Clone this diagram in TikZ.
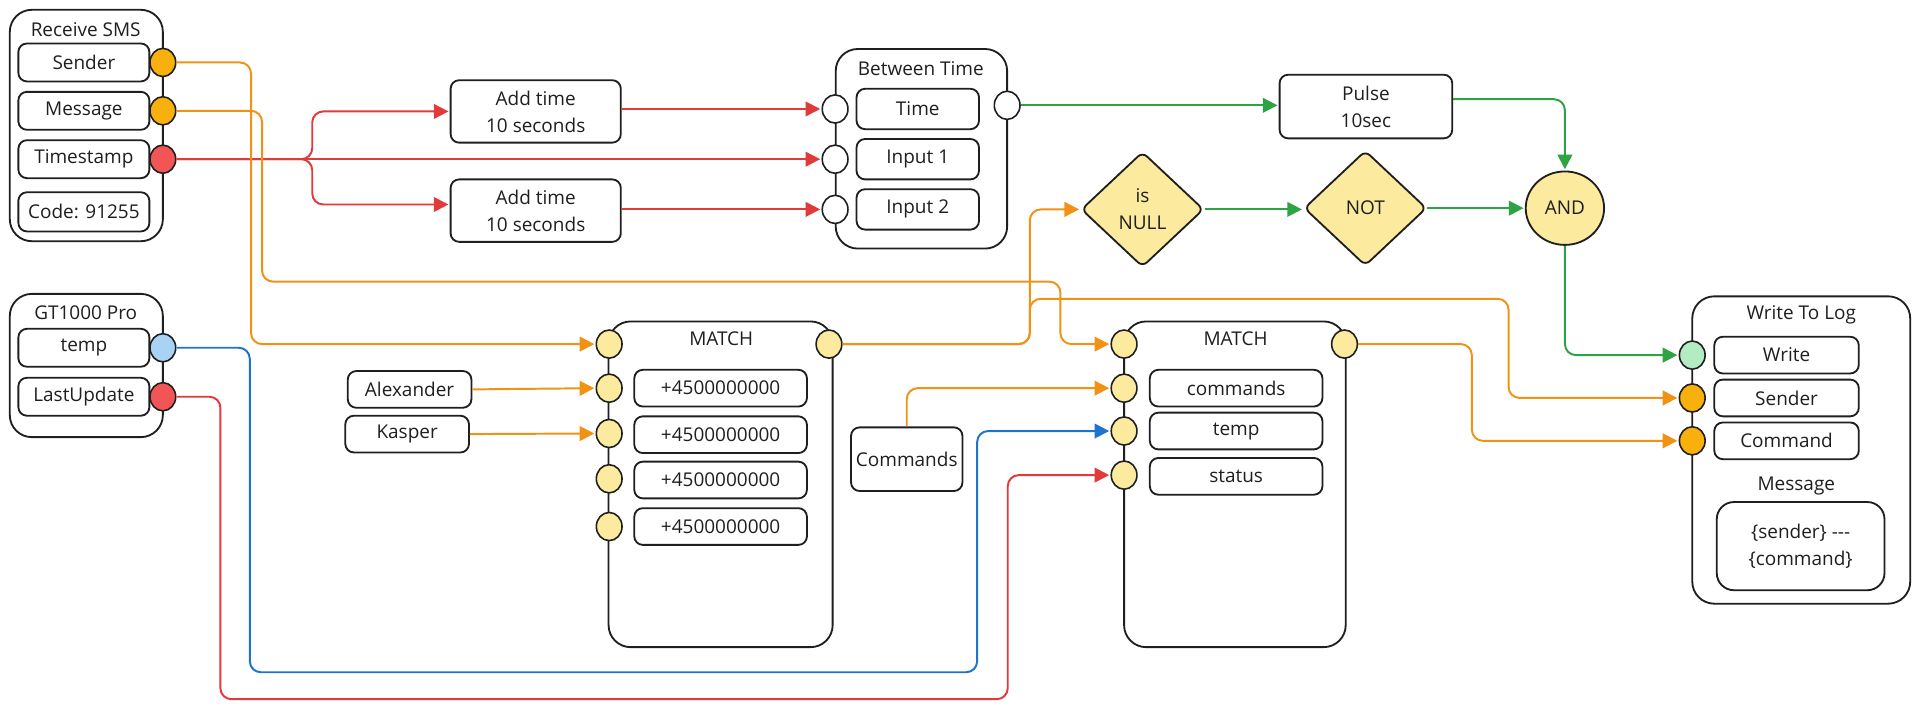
\documentclass[tikz,border=0pt]{standalone}
\usepackage{fontspec}
\setmainfont{Open Sans}
\usetikzlibrary{shapes.geometric,arrows.meta}
\definecolor{ink}{HTML}{1F1F1F}
\definecolor{portorange}{HTML}{F7B00C}
\definecolor{portred}{HTML}{F25555}
\definecolor{portblue}{HTML}{A9D3F5}
\definecolor{portgreen}{HTML}{B3EBC2}
\definecolor{softyellow}{HTML}{FCEA9E}
\definecolor{wireorange}{HTML}{F29214}
\definecolor{wirered}{HTML}{E03A3A}
\definecolor{wireblue}{HTML}{1E74CC}
\definecolor{wiregreen}{HTML}{2EA344}
\begin{document}
\begin{tikzpicture}[x=1pt,y=-1pt,
  every node/.style={text=ink, font=\fontsize{15.5}{22}\selectfont},
  cont/.style={draw=ink, line width=1.5pt, rounded corners=18pt, inner sep=0pt, fill=white},
  fbox/.style={draw=ink, line width=1.5pt, rounded corners=7pt, inner sep=0pt, fill=white, align=center},
  ttl/.style={inner sep=0pt},
  port/.style={ellipse, draw=ink, line width=1.3pt, minimum width=21pt, minimum height=23pt, inner sep=0pt},
  wire/.style={line width=1.6pt, rounded corners=9pt, shorten >=1pt, -{Triangle[length=12pt,width=12pt]}},
  ow/.style={wire, draw=wireorange, color=wireorange},
  rw/.style={wire, draw=wirered, color=wirered},
  bw/.style={wire, draw=wireblue, color=wireblue},
  gw/.style={wire, draw=wiregreen, color=wiregreen},
  gate/.style={draw=ink, fill=softyellow, line width=1.5pt, inner sep=0pt, align=center}
]
\useasboundingbox (0,0) rectangle (1568,579);

% ---------- Receive SMS ----------
\node[cont, minimum width=125pt, minimum height=189pt] (rsms) at (70.5,102.5) {};
\node[ttl] (rsmsT) at (70,24) {Receive SMS};
\node[fbox, minimum width=107pt, minimum height=31pt] (fSnd) at (68.5,51) {Sender};
\node[fbox, minimum width=107pt, minimum height=31pt] (fMsg) at (68.5,90.5) {Message};
\node[fbox, minimum width=107pt, minimum height=31pt] (fTs) at (68.5,130) {Timestamp};
\node[fbox, minimum width=107pt, minimum height=32pt] (fCode) at (68.5,173) {Code: 91255};
\node[port, fill=portorange] (pSnd) at (133,51) {};
\node[port, fill=portorange] (pMsg) at (133,90.5) {};
\node[port, fill=portred] (pTs) at (133,130) {};

% ---------- GT1000 Pro ----------
\node[cont, minimum width=125pt, minimum height=117pt] (gt) at (70.5,298.5) {};
\node[ttl] (gtT) at (70,255) {GT1000 Pro};
\node[fbox, minimum width=107pt, minimum height=31pt] (fTemp) at (68.5,284) {temp};
\node[fbox, minimum width=107pt, minimum height=31pt] (fLast) at (68.5,324) {LastUpdate};
\node[port, fill=portblue] (pTemp) at (133,284) {};
\node[port, fill=portred] (pLast) at (133,324) {};

% ---------- Add time ----------
\node[fbox, minimum width=139pt, minimum height=51pt] (add1) at (437.5,91) {Add time\\10 seconds};
\node[fbox, minimum width=139pt, minimum height=51pt] (add2) at (437.5,172) {Add time\\10 seconds};

% ---------- Between Time ----------
\node[cont, minimum width=140pt, minimum height=163pt] (bt) at (752.5,121.5) {};
\node[ttl] (btT) at (752,56) {Between Time};
\node[fbox, minimum width=100pt, minimum height=33pt] (fTime) at (749.5,89) {Time};
\node[fbox, minimum width=100pt, minimum height=33pt] (fIn1) at (749.5,130) {Input 1};
\node[fbox, minimum width=100pt, minimum height=33pt] (fIn2) at (749.5,171) {Input 2};
\node[port, fill=white] (bIn0) at (682,89) {};
\node[port, fill=white] (bIn1) at (682,130) {};
\node[port, fill=white] (bIn2) at (682,171) {};
\node[port, fill=white] (bOut) at (822.5,86) {};

% ---------- Pulse / gates ----------
\node[fbox, minimum width=141pt, minimum height=52pt] (pulse) at (1115.5,87) {Pulse\\10sec};
\node[gate, diamond, minimum width=100pt, minimum height=94pt, rounded corners=5pt] (isnull) at (933,171) {is\\NULL};
\node[gate, diamond, minimum width=100pt, minimum height=94pt, rounded corners=5pt] (not) at (1115,170) {NOT};
\node[gate, ellipse, minimum width=64pt, minimum height=60pt] (and) at (1278,170) {AND};

% ---------- MATCH 1 ----------
\node[cont, minimum width=183pt, minimum height=266pt] (m1) at (588.5,395.5) {};
\node[ttl] (m1T) at (589,277) {MATCH};
\foreach \y/\n in {317/1,355/2,392/3,430/4}
  \node[fbox, minimum width=141pt, minimum height=30pt] (m1r\n) at (588.5,\y) {+4500000000};
\node[port, fill=softyellow] (m1a) at (497.5,281) {};
\node[port, fill=softyellow] (m1b) at (497.5,317) {};
\node[port, fill=softyellow] (m1c) at (497.5,354) {};
\node[port, fill=softyellow] (m1d) at (497.5,391) {};
\node[port, fill=softyellow] (m1e) at (497.5,430) {};
\node[port, fill=softyellow] (m1o) at (677,281) {};

\node[fbox, minimum width=101pt, minimum height=30pt] (alex) at (334.5,318) {Alexander};
\node[fbox, minimum width=101pt, minimum height=30pt] (kasp) at (332.5,354.5) {Kasper};
\node[fbox, minimum width=91pt, minimum height=52pt] (cmds) at (740.5,375) {Commands};

% ---------- MATCH 2 ----------
\node[cont, minimum width=181pt, minimum height=266pt] (m2) at (1008.5,395.5) {};
\node[ttl] (m2T) at (1009,277) {MATCH};
\node[fbox, minimum width=141pt, minimum height=30pt] (m2r1) at (1009.5,317) {commands};
\node[fbox, minimum width=141pt, minimum height=30pt] (m2r2) at (1009.5,352) {temp};
\node[fbox, minimum width=141pt, minimum height=30pt] (m2r3) at (1009.5,389) {status};
\node[port, fill=softyellow] (m2a) at (918,281) {};
\node[port, fill=softyellow] (m2b) at (918,317) {};
\node[port, fill=softyellow] (m2c) at (918,352) {};
\node[port, fill=softyellow] (m2d) at (918,388) {};
\node[port, fill=softyellow] (m2o) at (1098,281) {};

% ---------- Write To Log ----------
\node[cont, minimum width=178pt, minimum height=251pt] (wl) at (1471,367.5) {};
\node[ttl] (wlT) at (1471,257) {Write To Log};
\node[fbox, minimum width=118pt, minimum height=30pt] (fW) at (1459,290) {Write};
\node[fbox, minimum width=118pt, minimum height=30pt] (fS) at (1459,325) {Sender};
\node[fbox, minimum width=118pt, minimum height=30pt] (fC) at (1459,360) {Command};
\node[ttl] (msgT) at (1467,397) {Message};
\node[fbox, minimum width=137pt, minimum height=72pt, rounded corners=14pt] (msgB) at (1470.5,446) {\{sender\} -{}-{}-\\\{command\}};
\node[port, fill=portgreen] (wW) at (1382,290) {};
\node[port, fill=portorange] (wS) at (1382,325) {};
\node[port, fill=portorange] (wC) at (1382,360) {};

% ---------- connectors ----------
\draw[rw] (pTs.east) -- (bIn1.west);
\draw[rw] (pTs.east) -- (255,130) |- (add1.west);
\draw[rw] (pTs.east) -- (255,130) |- ([yshift=5pt]add2.west);
\draw[rw] (add1.east |- bIn0.west) -- (bIn0.west);
\draw[rw] (add2.east |- bIn2.west) -- (bIn2.west);

\draw[gw] (bOut.east) -- (pulse.west |- bOut.east);
\draw[gw] ([yshift=6pt]pulse.east) -| (and.north);
\draw[gw] (isnull.east) -- (not.west |- isnull.east);
\draw[gw] (not.east) -- (and.west);
\draw[gw] (and.south) |- (wW.west);

\draw[ow] (pSnd.east) -- (205,51) |- (m1a.west);
\draw[ow] (pMsg.east) -- (214,90.5) -- (214,230) -- (866,230) |- (m2a.west);
\draw[ow] (m1o.east) -- (841,281) |- (isnull.west);
\draw[ow] (m1o.east) -- (841,281) -- (841,244) -- (1232,244) |- (wS.west);
\draw[ow] (m2o.east) -- (1202,281) |- (wC.west);
\draw[ow] (alex.east) -- (m1b.west);
\draw[ow] (kasp.east) -- (m1c.west);
\draw[ow] (cmds.north) |- (m2b.west);

\draw[bw] (pTemp.east) -- (204,284) -- (204,549) -- (798,549) |- (m2c.west);
\draw[rw] (pLast.east) -- (180,324) -- (180,571) -- (823,571) |- (m2d.west);
\end{tikzpicture}
\end{document}
